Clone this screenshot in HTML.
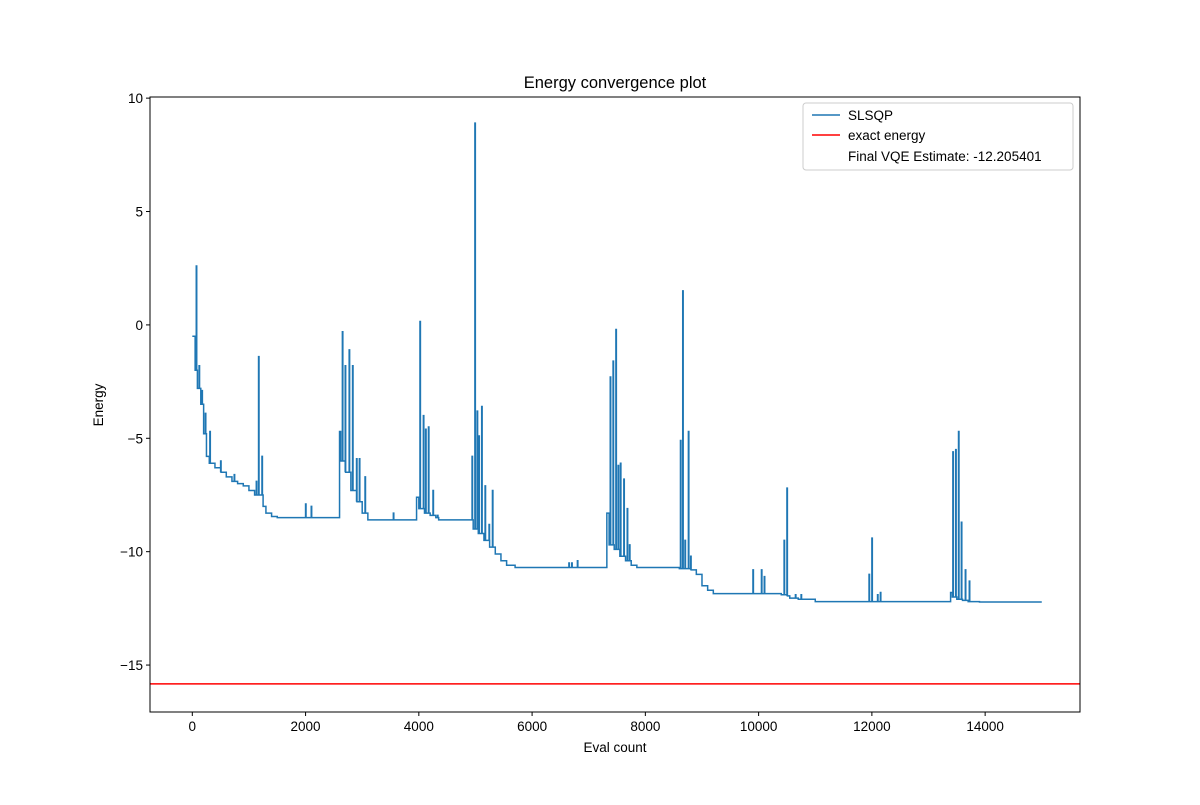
<!DOCTYPE html>
<html><head><meta charset="utf-8"><style>
body{margin:0;background:#fff;}
svg{font-family:"Liberation Sans","DejaVu Sans",sans-serif;}
</style></head><body>
<svg id="chart" width="1200" height="800"></svg>
<script>
const baseX=[0,50,90,150,200,250,300,400,500,600,700,800,900,1000,1100,1250,1300,1400,1500,2600,2620,2700,2800,2900,3000,3100,3960,4000,4100,4200,4300,4350,4930,4960,5050,5150,5250,5350,5450,5550,5700,7320,7360,7450,7550,7650,7750,7850,8600,8800,8900,9000,9100,9200,10400,10500,10550,10700,11000,13390,13420,13500,13600,13700,13800,13900,15000];
const baseY=[-0.5,-2.0,-2.8,-3.5,-4.8,-5.8,-6.1,-6.3,-6.5,-6.7,-6.9,-7.0,-7.1,-7.3,-7.5,-8.0,-8.3,-8.45,-8.5,-4.7,-6.0,-6.5,-7.3,-7.8,-8.3,-8.6,-7.6,-8.1,-8.3,-8.4,-8.5,-8.6,-8.6,-9.0,-9.2,-9.5,-9.8,-10.1,-10.4,-10.6,-10.7,-8.3,-9.7,-9.9,-10.2,-10.4,-10.6,-10.7,-10.75,-10.8,-11.0,-11.5,-11.7,-11.85,-11.9,-11.95,-12.05,-12.1,-12.2,-11.8,-12.0,-12.1,-12.15,-12.2,-12.2,-12.22,-12.22];
const spikeX=[70,120,170,230,310,500,740,1130,1170,1230,2000,2100,2650,2700,2770,2830,2900,2950,3050,3550,4020,4080,4120,4170,4250,4330,4940,4990,5030,5060,5110,5170,5240,5300,6650,6700,6800,7380,7430,7480,7520,7560,7620,7680,7720,8620,8660,8700,8760,8800,9900,10050,10100,10450,10500,10650,10750,11950,12000,12100,12150,13430,13480,13530,13580,13650,13720];
const spikeY=[2.6,-1.8,-2.9,-3.9,-4.7,-6.0,-6.6,-6.9,-1.4,-5.8,-7.9,-8.0,-0.3,-1.8,-1.1,-1.8,-5.9,-5.9,-6.7,-8.3,0.15,-4.0,-4.6,-4.5,-7.3,-8.4,-5.8,8.9,-3.8,-4.9,-3.6,-7.1,-8.8,-7.3,-10.5,-10.5,-10.4,-2.3,-1.6,-0.2,-6.2,-6.1,-6.8,-8.1,-9.7,-5.1,1.5,-9.5,-4.7,-10.2,-10.8,-10.8,-11.1,-9.5,-7.2,-11.9,-11.9,-11.0,-9.4,-11.9,-11.8,-5.6,-5.5,-4.7,-8.7,-10.8,-11.3];
const exactEnergy=-15.83;
const xTicks=[0,2000,4000,6000,8000,10000,12000,14000];
const yTicks=[10,5,0,-5,-10,-15];

const L=150,R=1080,T=97,B=712;
const xMin=-747,xMax=15675,yMin=-17.07,yMax=10.05;
const sx=v=>L+(v-xMin)/(xMax-xMin)*(R-L);
const sy=v=>B-(v-yMin)/(yMax-yMin)*(B-T);
const svg=document.getElementById('chart');
const NS='http://www.w3.org/2000/svg';
function mk(tag,attrs,parent){const e=document.createElementNS(NS,tag);for(const k in attrs)e.setAttribute(k,attrs[k]);(parent||svg).appendChild(e);return e;}
function baseAt(x){let v=baseY[0];for(let i=0;i<baseX.length;i++){if(baseX[i]<=x)v=baseY[i];}return v;}

// series path
let pts=[];
baseX.forEach((x,i)=>pts.push({x,y:baseY[i],t:'b'}));
spikeX.forEach((x,i)=>pts.push({x,y:spikeY[i],t:'s'}));
pts.sort((a,b)=>a.x-b.x);
let d='',prevY=null;
pts.forEach(p=>{
  if(p.t==='b'){
    if(prevY===null)d+=`M${sx(p.x)},${sy(p.y)}`;
    else d+=`L${sx(p.x)},${sy(prevY)}L${sx(p.x)},${sy(p.y)}`;
    prevY=p.y;
  } else {
    const b=baseAt(p.x);
    d+=`L${sx(p.x)},${sy(b)}L${sx(p.x)},${sy(p.y)}L${sx(p.x+8)},${sy(p.y)}L${sx(p.x+8)},${sy(b)}`;
    prevY=b;
  }
});
const series=mk('path',{d,fill:'none',stroke:'#1f77b4','stroke-width':1.5});



const ex=mk('line',{x1:L,x2:R,y1:sy(exactEnergy),y2:sy(exactEnergy),stroke:'#ff0000','stroke-width':1.5});



const frame=mk('rect',{x:L,y:T,width:R-L,height:B-T,fill:'none',stroke:'#000','stroke-width':1});



xTicks.forEach(v=>{
  const x=sx(v);
  const tk=mk('line',{x1:x,x2:x,y1:B,y2:B+4,stroke:'#000'});
  
  
  const t=mk('text',{x:x,y:B+19,'text-anchor':'middle','font-size':13.5});
  t.textContent=v;
  
  
});
yTicks.forEach(v=>{
  const y=sy(v);
  const tk=mk('line',{x1:L-4,x2:L,y1:y,y2:y,stroke:'#000'});
  
  
  const t=mk('text',{x:L-7,y:y+5,'text-anchor':'end','font-size':13.5});
  t.textContent=v<0?'\u2212'+Math.abs(v):v;
  
  
});
</script>
<svg width="1200" height="800" style="position:absolute;left:0;top:0">
<text x="615" y="88" text-anchor="middle" font-size="16.5" font-family="Liberation Sans, sans-serif">Energy convergence plot</text>
<text x="615" y="752" text-anchor="middle" font-size="13.5" font-family="Liberation Sans, sans-serif">Eval count</text>
<text x="103" y="405" text-anchor="middle" font-size="13.5" font-family="Liberation Sans, sans-serif" transform="rotate(-90 103 405)">Energy</text>
<g font-family="Liberation Sans, sans-serif" font-size="13.5">
<rect x="803" y="103" width="270" height="67" rx="3" fill="#fff" fill-opacity="0.8" stroke="#ccc"/>
<line x1="812" x2="840" y1="115" y2="115" stroke="#1f77b4" stroke-width="1.5"/>
<text x="848" y="120">SLSQP</text>
<line x1="812" x2="840" y1="135" y2="135" stroke="#ff0000" stroke-width="1.5"/>
<text x="848" y="140">exact energy</text>
<text x="848" y="161">Final VQE Estimate: -12.205401</text>
</g>
</svg>
</body></html>
